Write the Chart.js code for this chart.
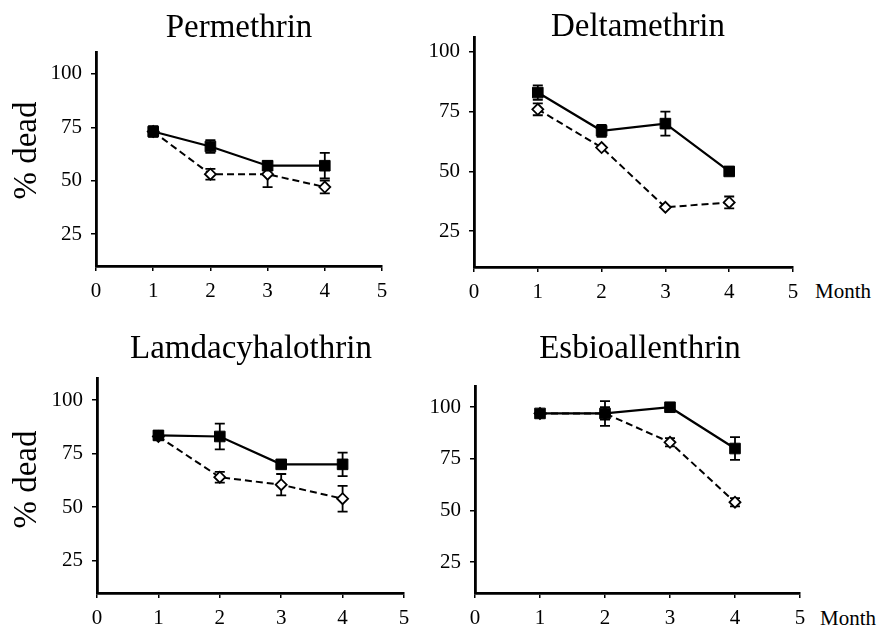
<!DOCTYPE html>
<html>
<head>
<meta charset="utf-8">
<script src="https://cdn.jsdelivr.net/npm/chart.js@4.4.1/dist/chart.umd.min.js"></script>
<style>
  body { margin: 0; background: #fff; width: 885px; height: 629px; position: relative; overflow: hidden;
         font-family: "Liberation Serif", "Times New Roman", serif; color: #000; }
  canvas, .txt { position: absolute; }
  .title { font-size: 33px; line-height: 33px; text-align: center; width: 300px; white-space: nowrap; }
  .ylab { font-size: 33px; line-height: 33px; width: 140px; text-align: center; transform: rotate(-90deg); white-space: nowrap; }
  .month { font-size: 21px; line-height: 21px; white-space: nowrap; }
</style>
</head>
<body>
<canvas id="c1" width="366" height="275" style="left:36px;top:31px"></canvas>
<canvas id="c2" width="399" height="291" style="left:414px;top:16px"></canvas>
<canvas id="c3" width="387" height="276" style="left:37px;top:357px"></canvas>
<canvas id="c4" width="405" height="268" style="left:415px;top:365px"></canvas>

<div class="txt title" style="left:89px;top:10px">Permethrin</div>
<div class="txt title" style="left:488px;top:9px">Deltamethrin</div>
<div class="txt title" style="left:101px;top:331px">Lamdacyhalothrin</div>
<div class="txt title" style="left:490px;top:331px">Esbioallenthrin</div>

<div class="txt ylab" style="left:-45px;top:134px">% dead</div>
<div class="txt ylab" style="left:-45px;top:463px">% dead</div>

<div class="txt month" style="left:815px;top:281px">Month</div>
<div class="txt month" style="left:820px;top:608px">Month</div>

<script>
// months on the x axis, % dead on the y axis
const months = [1, 2, 3, 4];
const yTicks = [25, 50, 75, 100];

// filled squares (solid line) and open diamonds (dashed line), with error bar half-lengths
const permethrinSolid = [73, 66, 57, 57];
const permethrinSolidErr = [2.5, 3, 2, 6];
const permethrinOpen = [73, 53, 53, 47];
const permethrinOpenErr = [2, 2.5, 6, 3];

const deltamethrinSolid = [83, 67, 70, 50];
const deltamethrinSolidErr = [3, 2.5, 5, 1];
const deltamethrinOpen = [76, 60, 35, 37];
const deltamethrinOpenErr = [2.5, 0, 0, 2.5];

const lamdaSolid = [83.5, 83, 70, 70];
const lamdaSolidErr = [2, 6, 1.5, 5.5];
const lamdaOpen = [83, 64, 60.5, 54];
const lamdaOpenErr = [1.5, 2.5, 5, 6];

const esbioSolid = [97, 97, 100, 80];
const esbioSolidErr = [1.5, 6, 1, 5.5];
const esbioOpen = [97, 97, 83, 54];
const esbioOpenErr = [1.5, 3, 2, 2];

const font = { family: 'Liberation Serif', size: 21 };

// vertical error bars with caps, drawn from the dataset's own scales
const errorBars = {
  id: 'errorBars',
  beforeDatasetsDraw(chart) {
    const ctx = chart.ctx;
    const xs = chart.scales.x, ys = chart.scales.y;
    ctx.save();
    ctx.strokeStyle = '#000';
    ctx.lineWidth = 1.8;
    chart.data.datasets.forEach(ds => {
      ds.data.forEach((p, i) => {
        const e = ds.errors[i];
        if (!e) return;
        const x = xs.getPixelForValue(p.x);
        const y1 = ys.getPixelForValue(p.y + e);
        const y2 = ys.getPixelForValue(p.y - e);
        ctx.beginPath();
        ctx.moveTo(x, y1); ctx.lineTo(x, y2);
        ctx.moveTo(x - 5, y1); ctx.lineTo(x + 5, y1);
        ctx.moveTo(x - 5, y2); ctx.lineTo(x + 5, y2);
        ctx.stroke();
      });
    });
    ctx.restore();
  }
};

function points(vals) {
  return months.map((m, i) => ({ x: m, y: vals[i] }));
}

function makePanel(id, solid, solidErr, open, openErr, yMax) {
  new Chart(document.getElementById(id), {
    type: 'line',
    data: {
      datasets: [
        {
          data: points(solid), errors: solidErr,
          borderColor: '#000', borderWidth: 2.2,
          pointStyle: 'rect', pointRadius: 7.5,
          pointBackgroundColor: '#000', pointBorderColor: '#000', pointBorderWidth: 1
        },
        {
          data: points(open), errors: openErr,
          borderColor: '#000', borderWidth: 2, borderDash: [7, 4],
          pointStyle: 'rectRot', pointRadius: 5.5,
          pointBackgroundColor: '#fff', pointBorderColor: '#000', pointBorderWidth: 1.8
        }
      ]
    },
    options: {
      responsive: false,
      animation: false,
      layout: { padding: { left: 0, top: 15, right: 20, bottom: 0 } },
      plugins: { legend: { display: false }, tooltip: { enabled: false } },
      scales: {
        x: {
          type: 'linear', min: 0, max: 5,
          afterFit: s => { s.height = 40; },
          ticks: { stepSize: 1, color: '#000', font: font, padding: 8 },
          grid: { drawOnChartArea: false, drawTicks: true, tickLength: 5, color: '#000', lineWidth: 1.5 },
          border: { display: true, color: '#000', width: 2.8 }
        },
        y: {
          min: 10, max: yMax,
          afterFit: s => { s.width = 60; },
          afterBuildTicks: s => { s.ticks = yTicks.map(v => ({ value: v })); },
          ticks: { color: '#000', font: font, padding: 9 },
          grid: { drawOnChartArea: false, drawTicks: true, tickLength: 5, color: '#000', lineWidth: 1.5 },
          border: { display: true, color: '#000', width: 2.8 }
        }
      }
    },
    plugins: [errorBars]
  });
}

makePanel('c1', permethrinSolid, permethrinSolidErr, permethrinOpen, permethrinOpenErr, 110);
makePanel('c2', deltamethrinSolid, deltamethrinSolidErr, deltamethrinOpen, deltamethrinOpenErr, 106);
makePanel('c3', lamdaSolid, lamdaSolidErr, lamdaOpen, lamdaOpenErr, 110);
makePanel('c4', esbioSolid, esbioSolidErr, esbioOpen, esbioOpenErr, 110);
</script>
</body>
</html>
